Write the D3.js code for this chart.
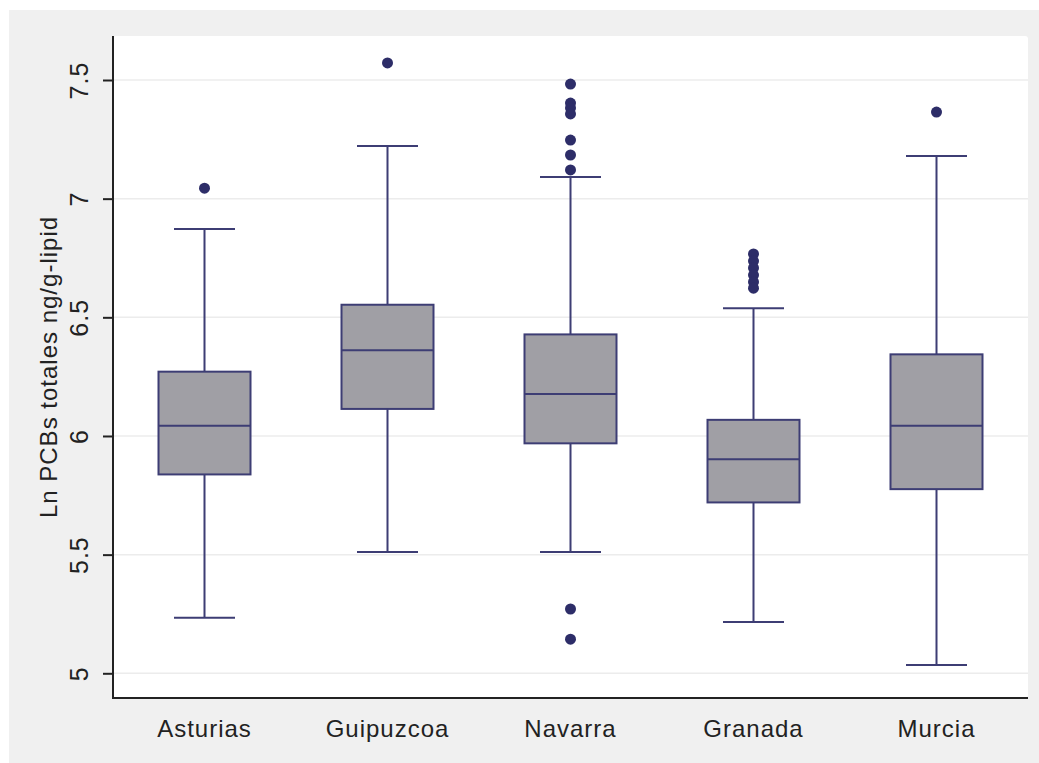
<!DOCTYPE html>
<html>
<head>
<meta charset="utf-8">
<script src="https://cdn.jsdelivr.net/npm/d3@7"></script>
<style>
  body { margin: 0; background: #ffffff; }
  svg { display: block; }
</style>
</head>
<body>
<svg></svg>
<script>
//--Data
var regions = ["Asturias", "Guipuzcoa", "Navarra", "Granada", "Murcia"];
var whiskerLow  = [5.234, 5.511, 5.511, 5.216, 5.035];
var q1          = [5.838, 6.114, 5.969, 5.720, 5.776];
var medians     = [6.043, 6.361, 6.177, 5.902, 6.043];
var q3          = [6.271, 6.553, 6.428, 6.068, 6.344];
var whiskerHigh = [6.872, 7.222, 7.091, 6.538, 7.180];
var outliers = [
  [7.044],
  [7.572],
  [7.483, 7.403, 7.382, 7.357, 7.247, 7.184, 7.121, 5.271, 5.144],
  [6.767, 6.737, 6.708, 6.678, 6.649, 6.623],
  [7.365]
];
var yTicks = [5, 5.5, 6, 6.5, 7, 7.5];
var yTitle = "Ln PCBs totales ng/g-lipid";

//--Shared info
var canvas = {
  width: 1039,
  height: 763,
  left: 113,
  right: 1028,
  top: 36,
  bottom: 698,
  boxFill: "#a09fa5",
  line: "#3d3d74",
  dot: "#2d2d68",
  font: "'Liberation Sans', Arial, sans-serif"
};
canvas.x = d3.scaleBand().domain(regions).range([canvas.left, canvas.right]);
canvas.y = d3.scaleLinear().domain([5, 7.5]).range([673.3, 80]);

let root = d3
  .select("svg")
  .attr("width", canvas.width)
  .attr("height", canvas.height);

//Backgrounds
root.append("rect")
  .attr("x", 9).attr("y", 10)
  .attr("width", canvas.width - 9).attr("height", canvas.height - 10)
  .attr("fill", "#f0f0f0");
root.append("rect")
  .attr("x", canvas.left).attr("y", canvas.top)
  .attr("width", canvas.right - canvas.left).attr("height", canvas.bottom - canvas.top)
  .attr("rx", 3)
  .attr("fill", "#ffffff");

//Grid
root.append("g")
  .selectAll("line")
  .data(yTicks)
  .enter()
  .append("line")
  .attr("x1", canvas.left).attr("x2", canvas.right)
  .attr("y1", d => canvas.y(d)).attr("y2", d => canvas.y(d))
  .attr("stroke", "#ececec")
  .attr("stroke-width", 1.5);

//Y axis
let yAxis = root.append("g")
  .attr("transform", "translate(" + canvas.left + ",0)")
  .call(d3.axisLeft(canvas.y).tickValues(yTicks).tickSize(10).tickPadding(0)
    .tickFormat(d => String(d)));
yAxis.select(".domain").remove();
yAxis.selectAll(".tick line").attr("stroke", "#222").attr("stroke-width", 2);
yAxis.selectAll(".tick text")
  .attr("transform", "translate(-25,0) rotate(-90)")
  .attr("x", 0).attr("dy", "0")
  .attr("text-anchor", "middle")
  .style("font-family", canvas.font)
  .style("font-size", "25px")
  .style("letter-spacing", "1px")
  .attr("fill", "#222");

//Axis lines
root.append("line")
  .attr("x1", canvas.left).attr("x2", canvas.left)
  .attr("y1", canvas.top).attr("y2", canvas.bottom)
  .attr("stroke", "#222").attr("stroke-width", 2);
root.append("line")
  .attr("x1", canvas.left - 1).attr("x2", canvas.right)
  .attr("y1", canvas.bottom).attr("y2", canvas.bottom)
  .attr("stroke", "#222").attr("stroke-width", 2);

//X labels
root.append("g")
  .selectAll("text")
  .data(regions)
  .enter()
  .append("text")
  .attr("x", d => canvas.x(d) + canvas.x.bandwidth() / 2)
  .attr("y", 737)
  .attr("text-anchor", "middle")
  .style("font-family", canvas.font)
  .style("font-size", "24px")
  .style("letter-spacing", "1px")
  .attr("fill", "#222")
  .text(d => d);

//Y title
root.append("text")
  .attr("transform", "translate(57,367) rotate(-90)")
  .attr("text-anchor", "middle")
  .style("font-family", canvas.font)
  .style("font-size", "24px")
  .style("letter-spacing", "1px")
  .attr("fill", "#222")
  .text(yTitle);

//--Box plots
let boxW = 92, capW = 61;
let boxes = root.append("g")
  .selectAll("g")
  .data(regions)
  .enter()
  .append("g")
  .attr("transform", d => "translate(" + (canvas.x(d) + canvas.x.bandwidth() / 2) + ",0)");

//Whiskers
boxes.append("line")
  .attr("x1", 0).attr("x2", 0)
  .attr("y1", (d, i) => canvas.y(whiskerHigh[i]))
  .attr("y2", (d, i) => canvas.y(whiskerLow[i]))
  .attr("stroke", canvas.line).attr("stroke-width", 2);
boxes.append("line")
  .attr("x1", -capW / 2).attr("x2", capW / 2)
  .attr("y1", (d, i) => canvas.y(whiskerHigh[i]))
  .attr("y2", (d, i) => canvas.y(whiskerHigh[i]))
  .attr("stroke", canvas.line).attr("stroke-width", 2);
boxes.append("line")
  .attr("x1", -capW / 2).attr("x2", capW / 2)
  .attr("y1", (d, i) => canvas.y(whiskerLow[i]))
  .attr("y2", (d, i) => canvas.y(whiskerLow[i]))
  .attr("stroke", canvas.line).attr("stroke-width", 2);

//Box
boxes.append("rect")
  .attr("x", -boxW / 2)
  .attr("width", boxW)
  .attr("y", (d, i) => canvas.y(q3[i]))
  .attr("height", (d, i) => canvas.y(q1[i]) - canvas.y(q3[i]))
  .attr("fill", canvas.boxFill)
  .attr("stroke", canvas.line).attr("stroke-width", 2);
boxes.append("line")
  .attr("x1", -boxW / 2).attr("x2", boxW / 2)
  .attr("y1", (d, i) => canvas.y(medians[i]))
  .attr("y2", (d, i) => canvas.y(medians[i]))
  .attr("stroke", canvas.line).attr("stroke-width", 2);

//Outliers
boxes.each(function (d, i) {
  d3.select(this)
    .selectAll("circle")
    .data(outliers[i])
    .enter()
    .append("circle")
    .attr("cx", 0)
    .attr("cy", v => canvas.y(v))
    .attr("r", 5.5)
    .attr("fill", canvas.dot);
});
</script>
</body>
</html>
